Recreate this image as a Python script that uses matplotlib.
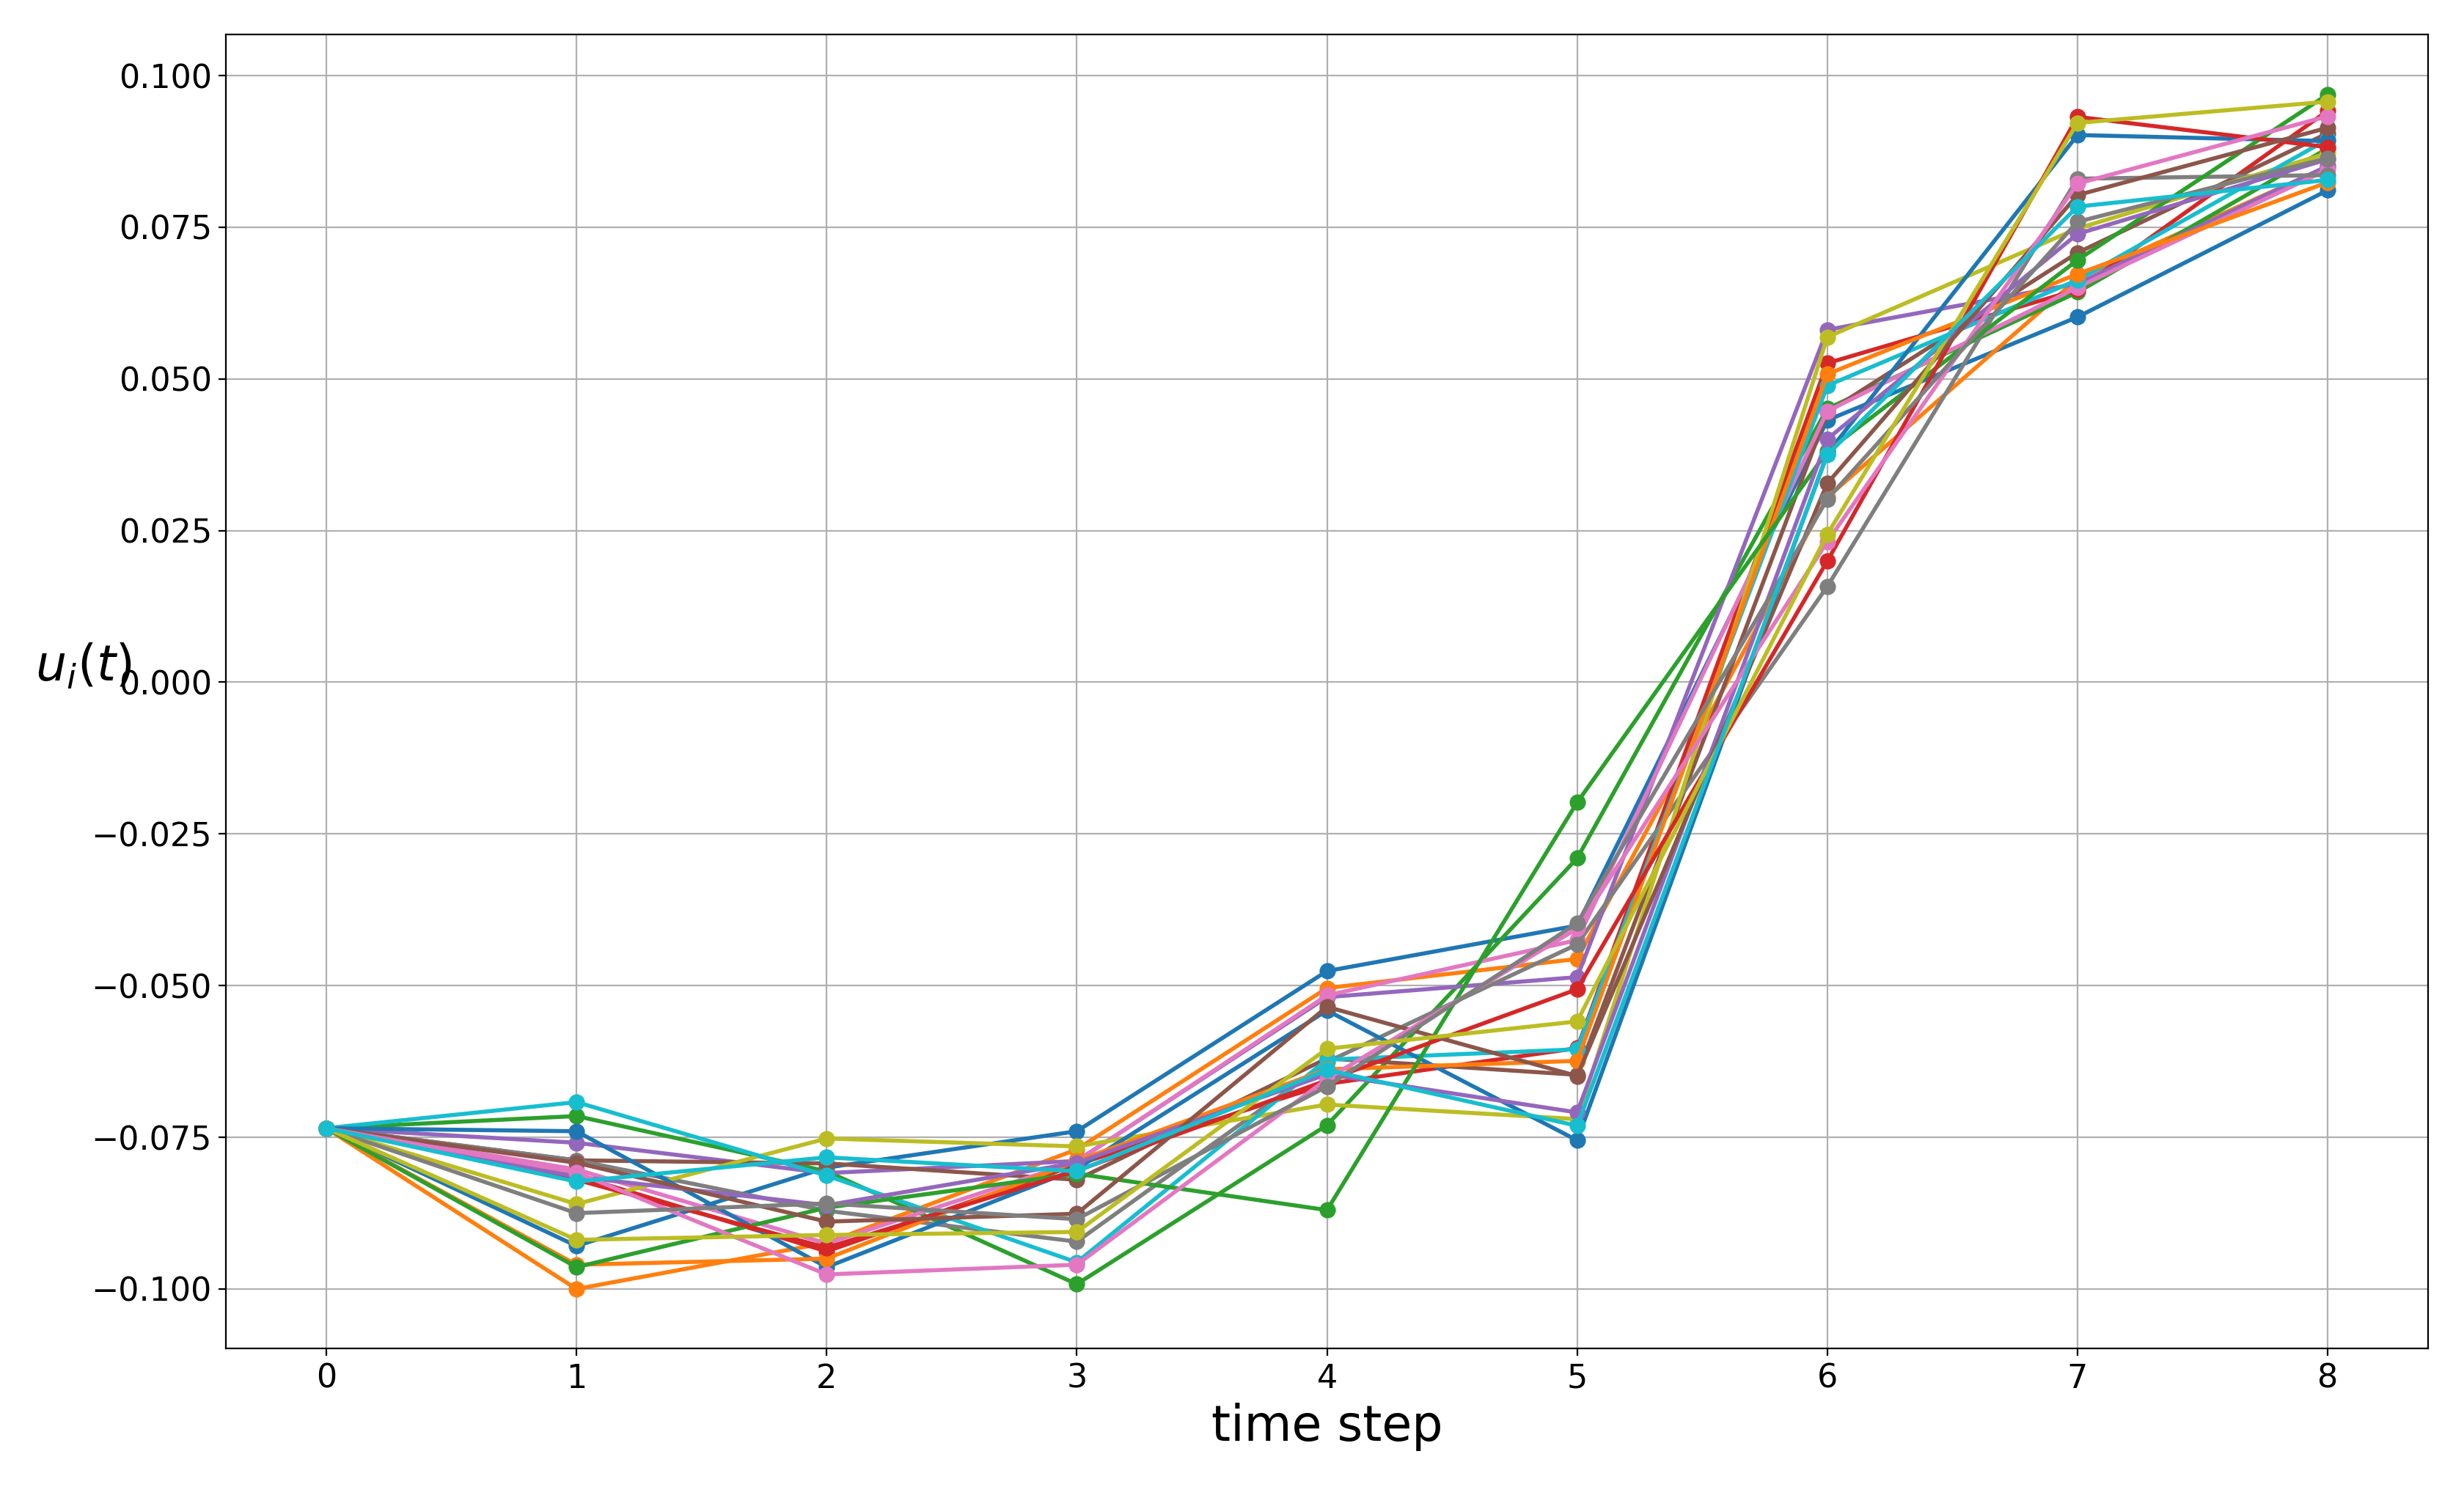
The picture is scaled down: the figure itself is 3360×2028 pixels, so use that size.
import numpy as np
import matplotlib
matplotlib.use("Agg")
import matplotlib.pyplot as plt

# time steps and per-agent trajectories u_i(t)
steps = list(range(9))

blue_a = [-0.0735, -0.0929, -0.0800, -0.0740, -0.0476, -0.0401, 0.0432, 0.0602, 0.0811]
orange_a = [-0.0735, -0.1000, -0.0924, -0.0770, -0.0504, -0.0456, 0.0305, 0.0665, 0.0850]
green_a = [-0.0735, -0.0715, -0.0806, -0.0992, -0.0730, -0.0290, 0.0451, 0.0643, 0.0880]
red_a = [-0.0735, -0.0813, -0.0938, -0.0795, -0.0662, -0.0603, 0.0526, 0.0647, 0.0942]
purple_a = [-0.0735, -0.0759, -0.0809, -0.0789, -0.0519, -0.0486, 0.0581, 0.0657, 0.0851]
brown_a = [-0.0735, -0.0788, -0.0793, -0.0820, -0.0620, -0.0647, 0.0445, 0.0708, 0.0905]
pink_a = [-0.0735, -0.0803, -0.0925, -0.0790, -0.0516, -0.0425, 0.0447, 0.0651, 0.0845]
gray_a = [-0.0735, -0.0788, -0.0871, -0.0922, -0.0626, -0.0432, 0.0158, 0.0830, 0.0836]
olive_a = [-0.0735, -0.0860, -0.0752, -0.0765, -0.0696, -0.0720, 0.0569, 0.0748, 0.0872]
cyan_a = [-0.0735, -0.0692, -0.0813, -0.0956, -0.0622, -0.0605, 0.0489, 0.0663, 0.0895]

blue_b = [-0.0735, -0.0740, -0.0964, -0.0802, -0.0541, -0.0755, 0.0377, 0.0902, 0.0892]
orange_b = [-0.0735, -0.0960, -0.0950, -0.0789, -0.0638, -0.0624, 0.0508, 0.0673, 0.0824]
green_b = [-0.0735, -0.0964, -0.0866, -0.0810, -0.0870, -0.0198, 0.0381, 0.0696, 0.0969]
red_b = [-0.0735, -0.0820, -0.0932, -0.0805, -0.0656, -0.0506, 0.0200, 0.0932, 0.0882]
purple_b = [-0.0735, -0.0815, -0.0862, -0.0792, -0.0646, -0.0709, 0.0401, 0.0739, 0.0862]
brown_b = [-0.0735, -0.0792, -0.0889, -0.0876, -0.0535, -0.0649, 0.0328, 0.0803, 0.0914]
pink_b = [-0.0735, -0.0808, -0.0976, -0.0960, -0.0654, -0.0406, 0.0232, 0.0822, 0.0933]
gray_b = [-0.0735, -0.0875, -0.0859, -0.0885, -0.0666, -0.0397, 0.0302, 0.0759, 0.0864]
olive_b = [-0.0735, -0.0919, -0.0911, -0.0906, -0.0604, -0.0559, 0.0244, 0.0922, 0.0957]
cyan_b = [-0.0735, -0.0823, -0.0783, -0.0806, -0.0639, -0.0731, 0.0375, 0.0784, 0.0828]

agents = [
    blue_a, orange_a, green_a, red_a, purple_a,
    brown_a, pink_a, gray_a, olive_a, cyan_a,
    blue_b, orange_b, green_b, red_b, purple_b,
    brown_b, pink_b, gray_b, olive_b, cyan_b,
]

fig = plt.figure(figsize=(16.8, 10.14), dpi=200)
ax = fig.add_axes([0.0918, 0.093, 0.8935, 0.8837])

for u in agents:
    ax.plot(steps, u, marker="o", linewidth=2.0, markersize=7)

ax.set_xticks(steps)
ax.tick_params(labelsize=16)
ax.grid(True)
ax.set_xlabel("time step", fontsize=24)
ax.set_ylabel(r"$u_i(t)$", rotation=0, fontsize=24)

fig.savefig("out.png", dpi=200)
plt.close(fig)
